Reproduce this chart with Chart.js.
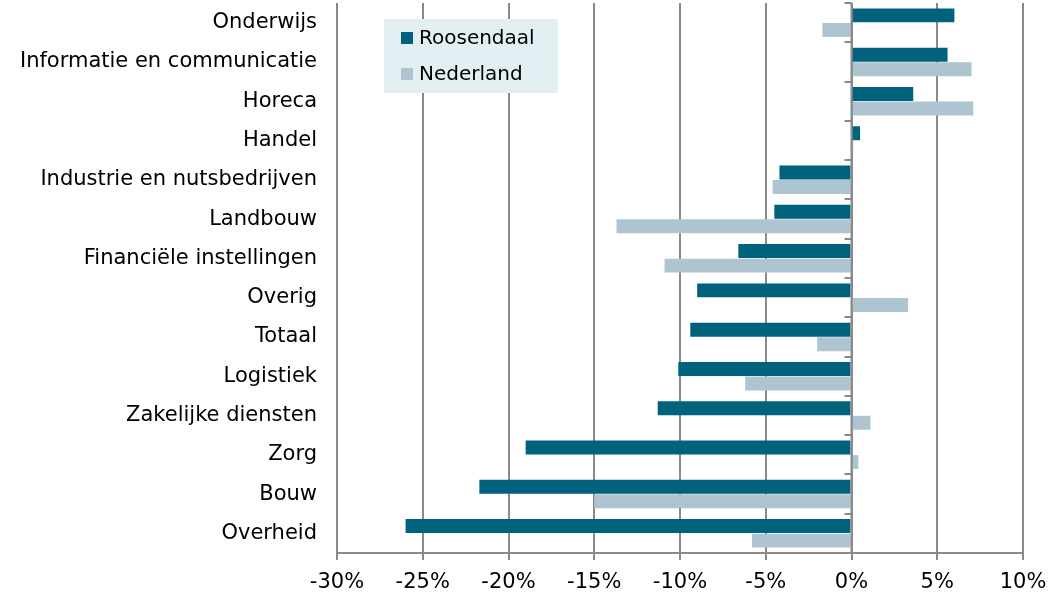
<!DOCTYPE html>
<html>
<head>
<meta charset="utf-8">
<script src="https://cdn.jsdelivr.net/npm/chart.js@4/dist/chart.umd.min.js"></script>
<style>
  html, body { margin: 0; padding: 0; background: #fff; }
  #wrap { width: 1048px; height: 592px; }
</style>
</head>
<body>
<div id="wrap"><canvas id="chart" width="1048" height="592"></canvas></div>
<script>
const categories = [
  'Onderwijs', 'Informatie en communicatie', 'Horeca', 'Handel',
  'Industrie en nutsbedrijven', 'Landbouw', 'Financiële instellingen', 'Overig',
  'Totaal', 'Logistiek', 'Zakelijke diensten', 'Zorg', 'Bouw', 'Overheid'
];
const roosendaal = [6.0, 5.6, 3.6, 0.5, -4.2, -4.5, -6.6, -9.0, -9.4, -10.1, -11.3, -19.0, -21.7, -26.0];
const nederland = [-1.7, 7.0, 7.1, 0.1, -4.6, -13.7, -10.9, 3.3, -2.0, -6.2, 1.1, 0.4, -15.0, -5.8];
const xMin = -30, xMax = 10, xStep = 5;

const gridColor = '#8a8a8a';
const fontFamily = '"DejaVu Sans", Verdana, sans-serif';

// zero line of the category axis with small ticks between categories
const zeroAxis = {
  id: 'zeroAxis',
  afterDatasetsDraw(chart) {
    const { ctx, chartArea, scales } = chart;
    const x0 = scales.x.getPixelForValue(0);
    const n = categories.length;
    const h = (chartArea.bottom - chartArea.top) / n;
    ctx.save();
    ctx.strokeStyle = gridColor;
    ctx.lineWidth = 2;
    ctx.beginPath();
    ctx.moveTo(x0, chartArea.top);
    ctx.lineTo(x0, chartArea.bottom);
    for (let i = 0; i <= n; i++) {
      const y = Math.round(chartArea.top + i * h);
      ctx.moveTo(x0 - 7, y);
      ctx.lineTo(x0, y);
    }
    ctx.stroke();
    ctx.restore();
  }
};

// legend box inside the plot
const boxLegend = {
  id: 'boxLegend',
  afterDraw(chart) {
    const ctx = chart.ctx;
    ctx.save();
    ctx.fillStyle = '#e2eff3';
    ctx.fillRect(384, 19, 174, 74);
    ctx.font = '20px ' + fontFamily;
    ctx.textBaseline = 'middle';
    chart.data.datasets.forEach((ds, i) => {
      const y = 38 + i * 36;
      ctx.fillStyle = ds.backgroundColor;
      ctx.fillRect(401, y - 6, 12, 12);
      ctx.fillStyle = '#000';
      ctx.fillText(ds.label, 419, y + 1);
    });
    ctx.restore();
  }
};

new Chart(document.getElementById('chart'), {
  type: 'bar',
  data: {
    labels: categories,
    datasets: [
      { label: 'Roosendaal', data: roosendaal, backgroundColor: '#00627c' },
      { label: 'Nederland', data: nederland, backgroundColor: '#aec4d0' }
    ]
  },
  options: {
    indexAxis: 'y',
    responsive: false,
    animation: false,
    layout: { padding: { top: 3, right: 25, bottom: 0, left: 0 } },
    datasets: { bar: { categoryPercentage: 0.74, barPercentage: 0.96 } },
    plugins: {
      legend: { display: false },
      tooltip: { enabled: false }
    },
    scales: {
      x: {
        min: xMin,
        max: xMax,
        afterFit(scale) {
          scale.height = 39;
          scale.paddingLeft = 0;
          scale.paddingRight = 0;
        },
        grid: { color: gridColor, lineWidth: 2, tickLength: 7 },
        border: { display: true, color: gridColor, width: 2 },
        ticks: {
          stepSize: xStep,
          padding: 10,
          color: '#000',
          font: { family: fontFamily, size: 21 },
          callback: v => v + '%'
        }
      },
      y: {
        afterFit(scale) {
          scale.width = 337;
          scale.paddingTop = 0;
          scale.paddingBottom = 0;
        },
        grid: { display: false, drawTicks: false },
        border: { display: false },
        ticks: {
          padding: 20,
          color: '#000',
          font: { family: fontFamily, size: 21 }
        }
      }
    }
  },
  plugins: [zeroAxis, boxLegend]
});
</script>
</body>
</html>
